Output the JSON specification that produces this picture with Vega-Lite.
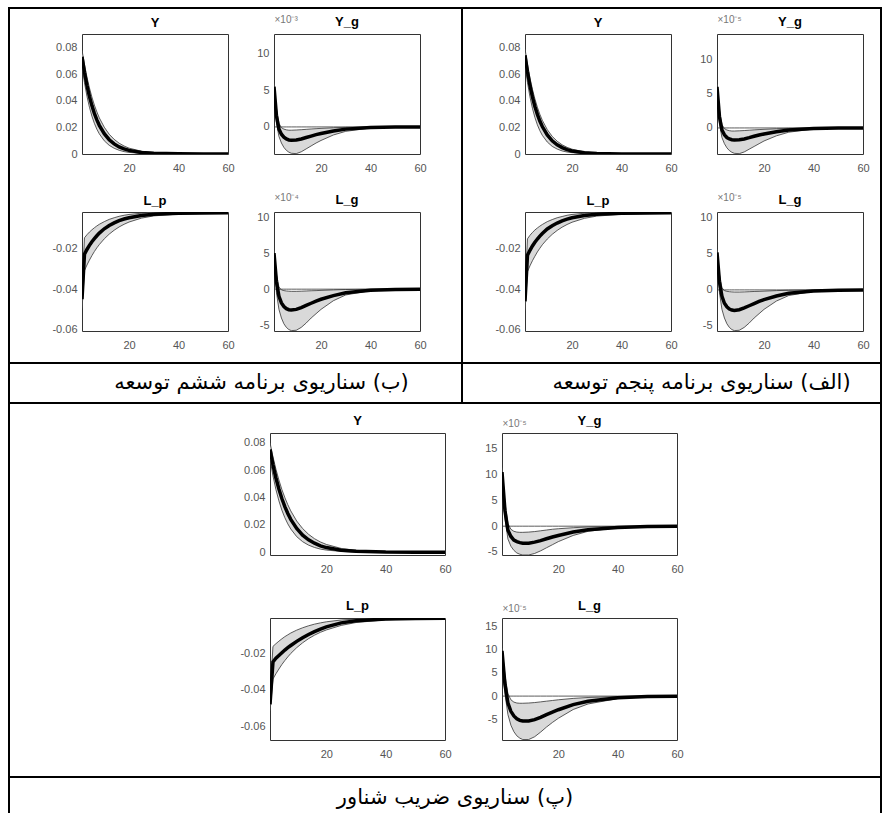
{
"$schema": "https://vega.github.io/schema/vega-lite/v6.json",
"padding": {"left": 8, "top": 7, "right": 1, "bottom": 0},
"background": "#ffffff",
"datasets": {
"A_Y": [
{"t":1,"m":0.073,"lo":0.066,"hi":0.078},{"t":2,"m":0.0613,"lo":0.0535,"hi":0.0671},{"t":3,"m":0.0515,"lo":0.0433,"hi":0.0577},{"t":4,"m":0.0432,"lo":0.0351,"hi":0.0496},{"t":5,"m":0.0363,"lo":0.0284,"hi":0.0427},{"t":6,"m":0.0305,"lo":0.023,"hi":0.0367},{"t":7,"m":0.0256,"lo":0.0186,"hi":0.0316},{"t":8,"m":0.0215,"lo":0.0151,"hi":0.0271},{"t":10,"m":0.0152,"lo":0.0099,"hi":0.0201},{"t":12,"m":0.0107,"lo":0.0065,"hi":0.0148},{"t":14,"m":0.0076,"lo":0.0043,"hi":0.011},{"t":16,"m":0.0053,"lo":0.0028,"hi":0.0081},{"t":18,"m":0.0038,"lo":0.0018,"hi":0.006},{"t":20,"m":0.0027,"lo":0.0012,"hi":0.0044},{"t":25,"m":0.0011,"lo":0.0004,"hi":0.0021},{"t":30,"m":0.0005,"lo":0.0001,"hi":0.001},{"t":40,"m":0.0001,"lo":0,"hi":0.0002},{"t":50,"m":0,"lo":0,"hi":0},{"t":60,"m":0,"lo":0,"hi":0}],
"B_Y": [
{"t":1,"m":0.074,"lo":0.067,"hi":0.079},{"t":2,"m":0.0617,"lo":0.0536,"hi":0.0672},{"t":3,"m":0.0514,"lo":0.0429,"hi":0.0571},{"t":4,"m":0.0428,"lo":0.0343,"hi":0.0485},{"t":5,"m":0.0356,"lo":0.0274,"hi":0.0413},{"t":6,"m":0.0297,"lo":0.0219,"hi":0.0351},{"t":7,"m":0.0247,"lo":0.0175,"hi":0.0298},{"t":8,"m":0.0206,"lo":0.014,"hi":0.0253},{"t":10,"m":0.0143,"lo":0.009,"hi":0.0183},{"t":12,"m":0.0099,"lo":0.0057,"hi":0.0132},{"t":14,"m":0.0069,"lo":0.0037,"hi":0.0096},{"t":16,"m":0.0048,"lo":0.0023,"hi":0.0069},{"t":18,"m":0.0033,"lo":0.0015,"hi":0.005},{"t":20,"m":0.0023,"lo":0.001,"hi":0.0036},{"t":25,"m":0.0009,"lo":0.0003,"hi":0.0016},{"t":30,"m":0.0003,"lo":0.0001,"hi":0.0007},{"t":40,"m":0,"lo":0,"hi":0.0001},{"t":50,"m":0,"lo":0,"hi":0},{"t":60,"m":0,"lo":0,"hi":0}],
"C_Y": [
{"t":1,"m":0.075,"lo":0.068,"hi":0.08},{"t":2,"m":0.0638,"lo":0.0558,"hi":0.0696},{"t":3,"m":0.0542,"lo":0.0457,"hi":0.0606},{"t":4,"m":0.0461,"lo":0.0375,"hi":0.0527},{"t":5,"m":0.0392,"lo":0.0307,"hi":0.0458},{"t":6,"m":0.0333,"lo":0.0252,"hi":0.0399},{"t":7,"m":0.0283,"lo":0.0207,"hi":0.0347},{"t":8,"m":0.024,"lo":0.017,"hi":0.0302},{"t":10,"m":0.0174,"lo":0.0114,"hi":0.0228},{"t":12,"m":0.0125,"lo":0.0077,"hi":0.0173},{"t":14,"m":0.0091,"lo":0.0052,"hi":0.0131},{"t":16,"m":0.0066,"lo":0.0035,"hi":0.0099},{"t":18,"m":0.0047,"lo":0.0023,"hi":0.0075},{"t":20,"m":0.0034,"lo":0.0016,"hi":0.0057},{"t":25,"m":0.0015,"lo":0.0006,"hi":0.0028},{"t":30,"m":0.0007,"lo":0.0002,"hi":0.0014},{"t":40,"m":0.0001,"lo":0,"hi":0.0003},{"t":50,"m":0,"lo":0,"hi":0.0001},{"t":60,"m":0,"lo":0,"hi":0}],
"A_Yg": [
{"t":1,"m":5.5,"lo":5.0,"hi":6.0},{"t":2,"m":1.5,"lo":0.5,"hi":2.5},{"t":3,"m":-0.3,"lo":-1.3,"hi":0.5},{"t":4,"m":-1.0,"lo":-2.2,"hi":-0.1},{"t":5,"m":-1.4,"lo":-2.8,"hi":-0.3},{"t":6,"m":-1.65,"lo":-3.2,"hi":-0.4},{"t":7,"m":-1.78,"lo":-3.45,"hi":-0.45},{"t":8,"m":-1.82,"lo":-3.6,"hi":-0.45},{"t":10,"m":-1.78,"lo":-3.65,"hi":-0.42},{"t":12,"m":-1.65,"lo":-3.4,"hi":-0.38},{"t":14,"m":-1.45,"lo":-3.0,"hi":-0.33},{"t":16,"m":-1.25,"lo":-2.6,"hi":-0.28},{"t":18,"m":-1.05,"lo":-2.2,"hi":-0.24},{"t":20,"m":-0.9,"lo":-1.85,"hi":-0.2},{"t":25,"m":-0.55,"lo":-1.1,"hi":-0.12},{"t":30,"m":-0.3,"lo":-0.6,"hi":-0.06},{"t":40,"m":-0.08,"lo":-0.15,"hi":-0.02},{"t":50,"m":-0.02,"lo":-0.04,"hi":0},{"t":60,"m":0,"lo":0,"hi":0}],
"B_Yg": [
{"t":1,"m":6.0,"lo":5.4,"hi":6.5},{"t":2,"m":1.6,"lo":0.6,"hi":2.6},{"t":3,"m":-0.3,"lo":-1.4,"hi":0.5},{"t":4,"m":-1.0,"lo":-2.3,"hi":-0.1},{"t":5,"m":-1.4,"lo":-2.9,"hi":-0.3},{"t":6,"m":-1.6,"lo":-3.3,"hi":-0.4},{"t":7,"m":-1.72,"lo":-3.55,"hi":-0.45},{"t":8,"m":-1.76,"lo":-3.7,"hi":-0.45},{"t":10,"m":-1.72,"lo":-3.75,"hi":-0.42},{"t":12,"m":-1.6,"lo":-3.5,"hi":-0.38},{"t":14,"m":-1.42,"lo":-3.1,"hi":-0.33},{"t":16,"m":-1.22,"lo":-2.7,"hi":-0.28},{"t":18,"m":-1.03,"lo":-2.3,"hi":-0.24},{"t":20,"m":-0.88,"lo":-1.9,"hi":-0.2},{"t":25,"m":-0.55,"lo":-1.15,"hi":-0.12},{"t":30,"m":-0.3,"lo":-0.62,"hi":-0.06},{"t":40,"m":-0.08,"lo":-0.16,"hi":-0.02},{"t":50,"m":-0.02,"lo":-0.04,"hi":0},{"t":60,"m":0,"lo":0,"hi":0}],
"C_Yg": [
{"t":1,"m":10.5,"lo":9.5,"hi":11.5},{"t":2,"m":3.0,"lo":1.5,"hi":4.5},{"t":3,"m":-0.8,"lo":-2.5,"hi":0.5},{"t":4,"m":-2.0,"lo":-3.9,"hi":-0.6},{"t":5,"m":-2.7,"lo":-4.7,"hi":-1.0},{"t":6,"m":-3.0,"lo":-5.2,"hi":-1.15},{"t":7,"m":-3.2,"lo":-5.45,"hi":-1.2},{"t":8,"m":-3.3,"lo":-5.6,"hi":-1.2},{"t":10,"m":-3.3,"lo":-5.6,"hi":-1.15},{"t":12,"m":-3.1,"lo":-5.3,"hi":-1.05},{"t":14,"m":-2.8,"lo":-4.8,"hi":-0.9},{"t":16,"m":-2.45,"lo":-4.2,"hi":-0.75},{"t":18,"m":-2.1,"lo":-3.6,"hi":-0.6},{"t":20,"m":-1.8,"lo":-3.0,"hi":-0.5},{"t":25,"m":-1.15,"lo":-1.8,"hi":-0.3},{"t":30,"m":-0.7,"lo":-1.0,"hi":-0.15},{"t":40,"m":-0.25,"lo":-0.3,"hi":-0.05},{"t":50,"m":-0.08,"lo":-0.1,"hi":-0.01},{"t":60,"m":-0.02,"lo":-0.02,"hi":0}],
"A_Lp": [
{"t":1,"m":-0.045,"lo":-0.05,"hi":-0.04},{"t":2,"m":-0.023,"lo":-0.031,"hi":-0.015},{"t":3,"m":-0.0207,"lo":-0.0283,"hi":-0.0135},{"t":4,"m":-0.0187,"lo":-0.0259,"hi":-0.0122},{"t":5,"m":-0.0169,"lo":-0.0237,"hi":-0.0111},{"t":6,"m":-0.0154,"lo":-0.0217,"hi":-0.0101},{"t":7,"m":-0.014,"lo":-0.0199,"hi":-0.0092},{"t":8,"m":-0.0127,"lo":-0.0183,"hi":-0.0084},{"t":10,"m":-0.0106,"lo":-0.0155,"hi":-0.0071},{"t":12,"m":-0.009,"lo":-0.0132,"hi":-0.006},{"t":14,"m":-0.0077,"lo":-0.0113,"hi":-0.0052},{"t":16,"m":-0.0066,"lo":-0.0097,"hi":-0.0045},{"t":18,"m":-0.0058,"lo":-0.0084,"hi":-0.004},{"t":20,"m":-0.0052,"lo":-0.0073,"hi":-0.0036},{"t":25,"m":-0.0041,"lo":-0.0054,"hi":-0.003},{"t":30,"m":-0.0035,"lo":-0.0043,"hi":-0.0027},{"t":40,"m":-0.003,"lo":-0.0034,"hi":-0.0025},{"t":50,"m":-0.0029,"lo":-0.0031,"hi":-0.0025},{"t":60,"m":-0.0028,"lo":-0.003,"hi":-0.0025}],
"B_Lp": [
{"t":1,"m":-0.046,"lo":-0.051,"hi":-0.041},{"t":2,"m":-0.0235,"lo":-0.0315,"hi":-0.0155},{"t":3,"m":-0.0211,"lo":-0.0287,"hi":-0.0138},{"t":4,"m":-0.019,"lo":-0.0262,"hi":-0.0124},{"t":5,"m":-0.0172,"lo":-0.024,"hi":-0.0112},{"t":6,"m":-0.0156,"lo":-0.0219,"hi":-0.0102},{"t":7,"m":-0.0142,"lo":-0.0201,"hi":-0.0093},{"t":8,"m":-0.0129,"lo":-0.0184,"hi":-0.0085},{"t":10,"m":-0.0107,"lo":-0.0156,"hi":-0.0071},{"t":12,"m":-0.0091,"lo":-0.0133,"hi":-0.0061},{"t":14,"m":-0.0078,"lo":-0.0114,"hi":-0.0052},{"t":16,"m":-0.0067,"lo":-0.0098,"hi":-0.0046},{"t":18,"m":-0.0059,"lo":-0.0085,"hi":-0.004},{"t":20,"m":-0.0052,"lo":-0.0074,"hi":-0.0036},{"t":25,"m":-0.0041,"lo":-0.0055,"hi":-0.003},{"t":30,"m":-0.0035,"lo":-0.0044,"hi":-0.0027},{"t":40,"m":-0.003,"lo":-0.0035,"hi":-0.0025},{"t":50,"m":-0.0029,"lo":-0.0032,"hi":-0.0025},{"t":60,"m":-0.0028,"lo":-0.0031,"hi":-0.0025}],
"C_Lp": [
{"t":1,"m":-0.048,"lo":-0.052,"hi":-0.043},{"t":2,"m":-0.0245,"lo":-0.034,"hi":-0.016},{"t":3,"m":-0.0225,"lo":-0.0311,"hi":-0.0145},{"t":4,"m":-0.021,"lo":-0.0285,"hi":-0.0131},{"t":5,"m":-0.0195,"lo":-0.026,"hi":-0.0118},{"t":6,"m":-0.018,"lo":-0.0238,"hi":-0.0106},{"t":7,"m":-0.0167,"lo":-0.0218,"hi":-0.0096},{"t":8,"m":-0.0155,"lo":-0.0199,"hi":-0.0086},{"t":10,"m":-0.0132,"lo":-0.0167,"hi":-0.007},{"t":12,"m":-0.0112,"lo":-0.014,"hi":-0.0057},{"t":14,"m":-0.0094,"lo":-0.0117,"hi":-0.0046},{"t":16,"m":-0.0078,"lo":-0.0098,"hi":-0.0037},{"t":18,"m":-0.0064,"lo":-0.0082,"hi":-0.003},{"t":20,"m":-0.0052,"lo":-0.0069,"hi":-0.0024},{"t":25,"m":-0.003,"lo":-0.0044,"hi":-0.0014},{"t":30,"m":-0.0018,"lo":-0.0028,"hi":-0.0009},{"t":40,"m":-0.0009,"lo":-0.0013,"hi":-0.0006},{"t":50,"m":-0.0006,"lo":-0.0008,"hi":-0.0005},{"t":60,"m":-0.0005,"lo":-0.0007,"hi":-0.0004}],
"A_Lg": [
{"t":1,"m":5.0,"lo":4.5,"hi":5.5},{"t":2,"m":1.0,"lo":-0.5,"hi":2.0},{"t":3,"m":-1.0,"lo":-2.8,"hi":0.3},{"t":4,"m":-1.9,"lo":-4.0,"hi":-0.1},{"t":5,"m":-2.4,"lo":-4.8,"hi":-0.2},{"t":6,"m":-2.7,"lo":-5.3,"hi":-0.25},{"t":7,"m":-2.85,"lo":-5.6,"hi":-0.28},{"t":8,"m":-2.9,"lo":-5.75,"hi":-0.3},{"t":10,"m":-2.8,"lo":-5.7,"hi":-0.3},{"t":12,"m":-2.55,"lo":-5.3,"hi":-0.28},{"t":14,"m":-2.25,"lo":-4.7,"hi":-0.25},{"t":16,"m":-1.95,"lo":-4.0,"hi":-0.22},{"t":18,"m":-1.65,"lo":-3.4,"hi":-0.2},{"t":20,"m":-1.4,"lo":-2.8,"hi":-0.17},{"t":25,"m":-0.9,"lo":-1.6,"hi":-0.1},{"t":30,"m":-0.5,"lo":-0.8,"hi":-0.05},{"t":40,"m":-0.15,"lo":-0.2,"hi":-0.01},{"t":50,"m":-0.04,"lo":-0.05,"hi":0},{"t":60,"m":0,"lo":0,"hi":0}],
"B_Lg": [
{"t":1,"m":5.2,"lo":4.7,"hi":5.7},{"t":2,"m":1.1,"lo":-0.4,"hi":2.1},{"t":3,"m":-0.9,"lo":-2.7,"hi":0.3},{"t":4,"m":-1.85,"lo":-3.9,"hi":-0.1},{"t":5,"m":-2.35,"lo":-4.7,"hi":-0.2},{"t":6,"m":-2.65,"lo":-5.2,"hi":-0.25},{"t":7,"m":-2.8,"lo":-5.5,"hi":-0.28},{"t":8,"m":-2.85,"lo":-5.65,"hi":-0.3},{"t":10,"m":-2.75,"lo":-5.6,"hi":-0.3},{"t":12,"m":-2.5,"lo":-5.2,"hi":-0.28},{"t":14,"m":-2.2,"lo":-4.6,"hi":-0.25},{"t":16,"m":-1.9,"lo":-3.9,"hi":-0.22},{"t":18,"m":-1.6,"lo":-3.3,"hi":-0.2},{"t":20,"m":-1.35,"lo":-2.7,"hi":-0.17},{"t":25,"m":-0.85,"lo":-1.55,"hi":-0.1},{"t":30,"m":-0.48,"lo":-0.78,"hi":-0.05},{"t":40,"m":-0.14,"lo":-0.2,"hi":-0.01},{"t":50,"m":-0.04,"lo":-0.05,"hi":0},{"t":60,"m":0,"lo":0,"hi":0}],
"C_Lg": [
{"t":1,"m":9.8,"lo":9.0,"hi":10.5},{"t":2,"m":2.5,"lo":0.5,"hi":4.5},{"t":3,"m":-1.5,"lo":-4.0,"hi":0.5},{"t":4,"m":-3.3,"lo":-6.3,"hi":-0.8},{"t":5,"m":-4.3,"lo":-7.7,"hi":-1.3},{"t":6,"m":-4.9,"lo":-8.6,"hi":-1.5},{"t":7,"m":-5.25,"lo":-9.1,"hi":-1.55},{"t":8,"m":-5.4,"lo":-9.4,"hi":-1.55},{"t":10,"m":-5.4,"lo":-9.4,"hi":-1.5},{"t":12,"m":-5.1,"lo":-8.8,"hi":-1.4},{"t":14,"m":-4.6,"lo":-7.8,"hi":-1.25},{"t":16,"m":-4.0,"lo":-6.7,"hi":-1.1},{"t":18,"m":-3.45,"lo":-5.7,"hi":-0.95},{"t":20,"m":-2.95,"lo":-4.8,"hi":-0.8},{"t":25,"m":-1.85,"lo":-2.9,"hi":-0.5},{"t":30,"m":-1.1,"lo":-1.7,"hi":-0.3},{"t":40,"m":-0.35,"lo":-0.55,"hi":-0.1},{"t":50,"m":-0.1,"lo":-0.15,"hi":-0.02},{"t":60,"m":-0.03,"lo":-0.04,"hi":0}]
},
"spacing": 0,
"bounds": "full",
"vconcat": [
{"width": 874, "height": 2, "view": {"fill": "#000", "stroke": null}, "data": {"values": []}, "mark": "text"},
{"hconcat": [
 {"width": 2, "height": 353, "view": {"fill": "#000", "stroke": null}, "data": {"values": []}, "mark": "text"},
 {"columns": 5, "bounds": "flush", "spacing": 0, "concat": [
  {"width": 72, "height": 25, "data": {"values": []}, "mark": "text"},
  {"width": 146, "height": 1, "data": {"values": []}, "mark": "text"},
  {"width": 46, "height": 1, "data": {"values": []}, "mark": "text"},
  {"width": 146, "height": 1, "data": {"values": []}, "mark": "text"},
  {"width": 41, "height": 1, "data": {"values": []}, "mark": "text"},
  {"width": 72, "height": 1, "data": {"values": []}, "mark": "text"},
  {"width": 146, "height": 120, "view": {"stroke": "#333"}, "title": {"text": "Y"}, "data": {"name": "A_Y"},
   "encoding": {"x": {"field": "t", "type": "quantitative", "scale": {"domain": [1, 60], "nice": false, "zero": false}, "axis": {"values": [20, 40, 60], "title": null}}},
   "layer": [
    {"mark": {"type": "area", "color": "#d9d9d9", "clip": true}, "encoding": {"y": {"field": "lo", "type": "quantitative", "scale": {"domain": [0, 0.09], "nice": false, "zero": false}, "axis": {"values": [0, 0.02, 0.04, 0.06, 0.08], "title": null, "labelExpr": "replace(format(datum.value, '~g'), '−', '-')"}}, "y2": {"field": "hi"}}},
    {"mark": {"type": "line", "color": "#333", "strokeWidth": 0.8, "clip": true}, "encoding": {"y": {"field": "lo", "type": "quantitative", "scale": {"domain": [0, 0.09], "nice": false, "zero": false}, "axis": {"values": [0, 0.02, 0.04, 0.06, 0.08], "title": null, "labelExpr": "replace(format(datum.value, '~g'), '−', '-')"}}}},
    {"mark": {"type": "line", "color": "#333", "strokeWidth": 0.8, "clip": true}, "encoding": {"y": {"field": "hi", "type": "quantitative", "scale": {"domain": [0, 0.09], "nice": false, "zero": false}, "axis": {"values": [0, 0.02, 0.04, 0.06, 0.08], "title": null, "labelExpr": "replace(format(datum.value, '~g'), '−', '-')"}}}},
    {"mark": {"type": "line", "color": "#000", "strokeWidth": 3.5, "clip": true}, "encoding": {"y": {"field": "m", "type": "quantitative", "scale": {"domain": [0, 0.09], "nice": false, "zero": false}, "axis": {"values": [0, 0.02, 0.04, 0.06, 0.08], "title": null, "labelExpr": "replace(format(datum.value, '~g'), '−', '-')"}}}}
   ]},
  {"width": 46, "height": 1, "data": {"values": []}, "mark": "text"},
  {"width": 146, "height": 120, "view": {"stroke": "#333"}, "title": {"text": "Y_g", "offset": -15}, "data": {"name": "A_Yg"},
   "encoding": {"x": {"field": "t", "type": "quantitative", "scale": {"domain": [1, 60], "nice": false, "zero": false}, "axis": {"values": [20, 40, 60], "title": null}}},
   "layer": [
    {"mark": {"type": "area", "color": "#d9d9d9", "clip": true}, "encoding": {"y": {"field": "lo", "type": "quantitative", "scale": {"domain": [-3.7, 12.7], "nice": false, "zero": false}, "axis": {"values": [0, 5, 10], "title": "×10⁻³", "titleAngle": 0, "titleAlign": "left", "titleBaseline": "alphabetic", "titleX": 0, "titleY": -12, "labelExpr": "replace(format(datum.value, '~g'), '−', '-')"}}, "y2": {"field": "hi"}}},
    {"mark": {"type": "line", "color": "#333", "strokeWidth": 0.8, "clip": true}, "encoding": {"y": {"field": "lo", "type": "quantitative", "scale": {"domain": [-3.7, 12.7], "nice": false, "zero": false}, "axis": {"values": [0, 5, 10], "title": "×10⁻³", "titleAngle": 0, "titleAlign": "left", "titleBaseline": "alphabetic", "titleX": 0, "titleY": -12, "labelExpr": "replace(format(datum.value, '~g'), '−', '-')"}}}},
    {"mark": {"type": "line", "color": "#333", "strokeWidth": 0.8, "clip": true}, "encoding": {"y": {"field": "hi", "type": "quantitative", "scale": {"domain": [-3.7, 12.7], "nice": false, "zero": false}, "axis": {"values": [0, 5, 10], "title": "×10⁻³", "titleAngle": 0, "titleAlign": "left", "titleBaseline": "alphabetic", "titleX": 0, "titleY": -12, "labelExpr": "replace(format(datum.value, '~g'), '−', '-')"}}}},
    {"mark": {"type": "line", "color": "#333", "strokeWidth": 0.8, "clip": true}, "encoding": {"y": {"datum": 0, "type": "quantitative", "scale": {"domain": [-3.7, 12.7], "nice": false, "zero": false}, "axis": {"values": [0, 5, 10], "title": "×10⁻³", "titleAngle": 0, "titleAlign": "left", "titleBaseline": "alphabetic", "titleX": 0, "titleY": -12, "labelExpr": "replace(format(datum.value, '~g'), '−', '-')"}}}},
    {"mark": {"type": "line", "color": "#000", "strokeWidth": 3.5, "clip": true}, "encoding": {"y": {"field": "m", "type": "quantitative", "scale": {"domain": [-3.7, 12.7], "nice": false, "zero": false}, "axis": {"values": [0, 5, 10], "title": "×10⁻³", "titleAngle": 0, "titleAlign": "left", "titleBaseline": "alphabetic", "titleX": 0, "titleY": -12, "labelExpr": "replace(format(datum.value, '~g'), '−', '-')"}}}}
   ]},
  {"width": 41, "height": 1, "data": {"values": []}, "mark": "text"},
  {"width": 72, "height": 58, "data": {"values": []}, "mark": "text"},
  {"width": 146, "height": 1, "data": {"values": []}, "mark": "text"},
  {"width": 46, "height": 1, "data": {"values": []}, "mark": "text"},
  {"width": 146, "height": 1, "data": {"values": []}, "mark": "text"},
  {"width": 41, "height": 1, "data": {"values": []}, "mark": "text"},
  {"width": 72, "height": 1, "data": {"values": []}, "mark": "text"},
  {"width": 146, "height": 119, "view": {"stroke": "#333"}, "title": {"text": "L_p"}, "data": {"name": "A_Lp"},
   "encoding": {"x": {"field": "t", "type": "quantitative", "scale": {"domain": [1, 60], "nice": false, "zero": false}, "axis": {"values": [20, 40, 60], "title": null}}},
   "layer": [
    {"mark": {"type": "area", "color": "#d9d9d9", "clip": true}, "encoding": {"y": {"field": "lo", "type": "quantitative", "scale": {"domain": [-0.0605, -0.0024], "nice": false, "zero": false}, "axis": {"values": [-0.06, -0.04, -0.02], "title": null, "labelExpr": "replace(format(datum.value, '~g'), '−', '-')"}}, "y2": {"field": "hi"}}},
    {"mark": {"type": "line", "color": "#333", "strokeWidth": 0.8, "clip": true}, "encoding": {"y": {"field": "lo", "type": "quantitative", "scale": {"domain": [-0.0605, -0.0024], "nice": false, "zero": false}, "axis": {"values": [-0.06, -0.04, -0.02], "title": null, "labelExpr": "replace(format(datum.value, '~g'), '−', '-')"}}}},
    {"mark": {"type": "line", "color": "#333", "strokeWidth": 0.8, "clip": true}, "encoding": {"y": {"field": "hi", "type": "quantitative", "scale": {"domain": [-0.0605, -0.0024], "nice": false, "zero": false}, "axis": {"values": [-0.06, -0.04, -0.02], "title": null, "labelExpr": "replace(format(datum.value, '~g'), '−', '-')"}}}},
    {"mark": {"type": "line", "color": "#000", "strokeWidth": 3.5, "clip": true}, "encoding": {"y": {"field": "m", "type": "quantitative", "scale": {"domain": [-0.0605, -0.0024], "nice": false, "zero": false}, "axis": {"values": [-0.06, -0.04, -0.02], "title": null, "labelExpr": "replace(format(datum.value, '~g'), '−', '-')"}}}}
   ]},
  {"width": 46, "height": 1, "data": {"values": []}, "mark": "text"},
  {"width": 146, "height": 119, "view": {"stroke": "#333"}, "title": {"text": "L_g", "offset": -15}, "data": {"name": "A_Lg"},
   "encoding": {"x": {"field": "t", "type": "quantitative", "scale": {"domain": [1, 60], "nice": false, "zero": false}, "axis": {"values": [20, 40, 60], "title": null}}},
   "layer": [
    {"mark": {"type": "area", "color": "#d9d9d9", "clip": true}, "encoding": {"y": {"field": "lo", "type": "quantitative", "scale": {"domain": [-5.8, 10.7], "nice": false, "zero": false}, "axis": {"values": [-5, 0, 5, 10], "title": "×10⁻⁴", "titleAngle": 0, "titleAlign": "left", "titleBaseline": "alphabetic", "titleX": 0, "titleY": -12, "labelExpr": "replace(format(datum.value, '~g'), '−', '-')"}}, "y2": {"field": "hi"}}},
    {"mark": {"type": "line", "color": "#333", "strokeWidth": 0.8, "clip": true}, "encoding": {"y": {"field": "lo", "type": "quantitative", "scale": {"domain": [-5.8, 10.7], "nice": false, "zero": false}, "axis": {"values": [-5, 0, 5, 10], "title": "×10⁻⁴", "titleAngle": 0, "titleAlign": "left", "titleBaseline": "alphabetic", "titleX": 0, "titleY": -12, "labelExpr": "replace(format(datum.value, '~g'), '−', '-')"}}}},
    {"mark": {"type": "line", "color": "#333", "strokeWidth": 0.8, "clip": true}, "encoding": {"y": {"field": "hi", "type": "quantitative", "scale": {"domain": [-5.8, 10.7], "nice": false, "zero": false}, "axis": {"values": [-5, 0, 5, 10], "title": "×10⁻⁴", "titleAngle": 0, "titleAlign": "left", "titleBaseline": "alphabetic", "titleX": 0, "titleY": -12, "labelExpr": "replace(format(datum.value, '~g'), '−', '-')"}}}},
    {"mark": {"type": "line", "color": "#333", "strokeWidth": 0.8, "clip": true}, "encoding": {"y": {"datum": 0, "type": "quantitative", "scale": {"domain": [-5.8, 10.7], "nice": false, "zero": false}, "axis": {"values": [-5, 0, 5, 10], "title": "×10⁻⁴", "titleAngle": 0, "titleAlign": "left", "titleBaseline": "alphabetic", "titleX": 0, "titleY": -12, "labelExpr": "replace(format(datum.value, '~g'), '−', '-')"}}}},
    {"mark": {"type": "line", "color": "#000", "strokeWidth": 3.5, "clip": true}, "encoding": {"y": {"field": "m", "type": "quantitative", "scale": {"domain": [-5.8, 10.7], "nice": false, "zero": false}, "axis": {"values": [-5, 0, 5, 10], "title": "×10⁻⁴", "titleAngle": 0, "titleAlign": "left", "titleBaseline": "alphabetic", "titleX": 0, "titleY": -12, "labelExpr": "replace(format(datum.value, '~g'), '−', '-')"}}}}
   ]},
  {"width": 41, "height": 1, "data": {"values": []}, "mark": "text"},
  {"width": 72, "height": 31, "data": {"values": []}, "mark": "text"},
  {"width": 146, "height": 1, "data": {"values": []}, "mark": "text"},
  {"width": 46, "height": 1, "data": {"values": []}, "mark": "text"},
  {"width": 146, "height": 1, "data": {"values": []}, "mark": "text"},
  {"width": 41, "height": 1, "data": {"values": []}, "mark": "text"}
 ]},
 {"width": 2, "height": 353, "view": {"fill": "#000", "stroke": null}, "data": {"values": []}, "mark": "text"},
 {"columns": 5, "bounds": "flush", "spacing": 0, "concat": [
  {"width": 62, "height": 25, "data": {"values": []}, "mark": "text"},
  {"width": 146, "height": 1, "data": {"values": []}, "mark": "text"},
  {"width": 46, "height": 1, "data": {"values": []}, "mark": "text"},
  {"width": 146, "height": 1, "data": {"values": []}, "mark": "text"},
  {"width": 17, "height": 1, "data": {"values": []}, "mark": "text"},
  {"width": 62, "height": 1, "data": {"values": []}, "mark": "text"},
  {"width": 146, "height": 120, "view": {"stroke": "#333"}, "title": {"text": "Y"}, "data": {"name": "B_Y"},
   "encoding": {"x": {"field": "t", "type": "quantitative", "scale": {"domain": [1, 60], "nice": false, "zero": false}, "axis": {"values": [20, 40, 60], "title": null}}},
   "layer": [
    {"mark": {"type": "area", "color": "#d9d9d9", "clip": true}, "encoding": {"y": {"field": "lo", "type": "quantitative", "scale": {"domain": [0, 0.09], "nice": false, "zero": false}, "axis": {"values": [0, 0.02, 0.04, 0.06, 0.08], "title": null, "labelExpr": "replace(format(datum.value, '~g'), '−', '-')"}}, "y2": {"field": "hi"}}},
    {"mark": {"type": "line", "color": "#333", "strokeWidth": 0.8, "clip": true}, "encoding": {"y": {"field": "lo", "type": "quantitative", "scale": {"domain": [0, 0.09], "nice": false, "zero": false}, "axis": {"values": [0, 0.02, 0.04, 0.06, 0.08], "title": null, "labelExpr": "replace(format(datum.value, '~g'), '−', '-')"}}}},
    {"mark": {"type": "line", "color": "#333", "strokeWidth": 0.8, "clip": true}, "encoding": {"y": {"field": "hi", "type": "quantitative", "scale": {"domain": [0, 0.09], "nice": false, "zero": false}, "axis": {"values": [0, 0.02, 0.04, 0.06, 0.08], "title": null, "labelExpr": "replace(format(datum.value, '~g'), '−', '-')"}}}},
    {"mark": {"type": "line", "color": "#000", "strokeWidth": 3.5, "clip": true}, "encoding": {"y": {"field": "m", "type": "quantitative", "scale": {"domain": [0, 0.09], "nice": false, "zero": false}, "axis": {"values": [0, 0.02, 0.04, 0.06, 0.08], "title": null, "labelExpr": "replace(format(datum.value, '~g'), '−', '-')"}}}}
   ]},
  {"width": 46, "height": 1, "data": {"values": []}, "mark": "text"},
  {"width": 146, "height": 120, "view": {"stroke": "#333"}, "title": {"text": "Y_g", "offset": -15}, "data": {"name": "B_Yg"},
   "encoding": {"x": {"field": "t", "type": "quantitative", "scale": {"domain": [1, 60], "nice": false, "zero": false}, "axis": {"values": [20, 40, 60], "title": null}}},
   "layer": [
    {"mark": {"type": "area", "color": "#d9d9d9", "clip": true}, "encoding": {"y": {"field": "lo", "type": "quantitative", "scale": {"domain": [-3.8, 13.7], "nice": false, "zero": false}, "axis": {"values": [0, 5, 10], "title": "×10⁻⁵", "titleAngle": 0, "titleAlign": "left", "titleBaseline": "alphabetic", "titleX": 0, "titleY": -12, "labelExpr": "replace(format(datum.value, '~g'), '−', '-')"}}, "y2": {"field": "hi"}}},
    {"mark": {"type": "line", "color": "#333", "strokeWidth": 0.8, "clip": true}, "encoding": {"y": {"field": "lo", "type": "quantitative", "scale": {"domain": [-3.8, 13.7], "nice": false, "zero": false}, "axis": {"values": [0, 5, 10], "title": "×10⁻⁵", "titleAngle": 0, "titleAlign": "left", "titleBaseline": "alphabetic", "titleX": 0, "titleY": -12, "labelExpr": "replace(format(datum.value, '~g'), '−', '-')"}}}},
    {"mark": {"type": "line", "color": "#333", "strokeWidth": 0.8, "clip": true}, "encoding": {"y": {"field": "hi", "type": "quantitative", "scale": {"domain": [-3.8, 13.7], "nice": false, "zero": false}, "axis": {"values": [0, 5, 10], "title": "×10⁻⁵", "titleAngle": 0, "titleAlign": "left", "titleBaseline": "alphabetic", "titleX": 0, "titleY": -12, "labelExpr": "replace(format(datum.value, '~g'), '−', '-')"}}}},
    {"mark": {"type": "line", "color": "#333", "strokeWidth": 0.8, "clip": true}, "encoding": {"y": {"datum": 0, "type": "quantitative", "scale": {"domain": [-3.8, 13.7], "nice": false, "zero": false}, "axis": {"values": [0, 5, 10], "title": "×10⁻⁵", "titleAngle": 0, "titleAlign": "left", "titleBaseline": "alphabetic", "titleX": 0, "titleY": -12, "labelExpr": "replace(format(datum.value, '~g'), '−', '-')"}}}},
    {"mark": {"type": "line", "color": "#000", "strokeWidth": 3.5, "clip": true}, "encoding": {"y": {"field": "m", "type": "quantitative", "scale": {"domain": [-3.8, 13.7], "nice": false, "zero": false}, "axis": {"values": [0, 5, 10], "title": "×10⁻⁵", "titleAngle": 0, "titleAlign": "left", "titleBaseline": "alphabetic", "titleX": 0, "titleY": -12, "labelExpr": "replace(format(datum.value, '~g'), '−', '-')"}}}}
   ]},
  {"width": 17, "height": 1, "data": {"values": []}, "mark": "text"},
  {"width": 62, "height": 58, "data": {"values": []}, "mark": "text"},
  {"width": 146, "height": 1, "data": {"values": []}, "mark": "text"},
  {"width": 46, "height": 1, "data": {"values": []}, "mark": "text"},
  {"width": 146, "height": 1, "data": {"values": []}, "mark": "text"},
  {"width": 17, "height": 1, "data": {"values": []}, "mark": "text"},
  {"width": 62, "height": 1, "data": {"values": []}, "mark": "text"},
  {"width": 146, "height": 119, "view": {"stroke": "#333"}, "title": {"text": "L_p"}, "data": {"name": "B_Lp"},
   "encoding": {"x": {"field": "t", "type": "quantitative", "scale": {"domain": [1, 60], "nice": false, "zero": false}, "axis": {"values": [20, 40, 60], "title": null}}},
   "layer": [
    {"mark": {"type": "area", "color": "#d9d9d9", "clip": true}, "encoding": {"y": {"field": "lo", "type": "quantitative", "scale": {"domain": [-0.0605, -0.0024], "nice": false, "zero": false}, "axis": {"values": [-0.06, -0.04, -0.02], "title": null, "labelExpr": "replace(format(datum.value, '~g'), '−', '-')"}}, "y2": {"field": "hi"}}},
    {"mark": {"type": "line", "color": "#333", "strokeWidth": 0.8, "clip": true}, "encoding": {"y": {"field": "lo", "type": "quantitative", "scale": {"domain": [-0.0605, -0.0024], "nice": false, "zero": false}, "axis": {"values": [-0.06, -0.04, -0.02], "title": null, "labelExpr": "replace(format(datum.value, '~g'), '−', '-')"}}}},
    {"mark": {"type": "line", "color": "#333", "strokeWidth": 0.8, "clip": true}, "encoding": {"y": {"field": "hi", "type": "quantitative", "scale": {"domain": [-0.0605, -0.0024], "nice": false, "zero": false}, "axis": {"values": [-0.06, -0.04, -0.02], "title": null, "labelExpr": "replace(format(datum.value, '~g'), '−', '-')"}}}},
    {"mark": {"type": "line", "color": "#000", "strokeWidth": 3.5, "clip": true}, "encoding": {"y": {"field": "m", "type": "quantitative", "scale": {"domain": [-0.0605, -0.0024], "nice": false, "zero": false}, "axis": {"values": [-0.06, -0.04, -0.02], "title": null, "labelExpr": "replace(format(datum.value, '~g'), '−', '-')"}}}}
   ]},
  {"width": 46, "height": 1, "data": {"values": []}, "mark": "text"},
  {"width": 146, "height": 119, "view": {"stroke": "#333"}, "title": {"text": "L_g", "offset": -15}, "data": {"name": "B_Lg"},
   "encoding": {"x": {"field": "t", "type": "quantitative", "scale": {"domain": [1, 60], "nice": false, "zero": false}, "axis": {"values": [20, 40, 60], "title": null}}},
   "layer": [
    {"mark": {"type": "area", "color": "#d9d9d9", "clip": true}, "encoding": {"y": {"field": "lo", "type": "quantitative", "scale": {"domain": [-5.7, 10.8], "nice": false, "zero": false}, "axis": {"values": [-5, 0, 5, 10], "title": "×10⁻⁵", "titleAngle": 0, "titleAlign": "left", "titleBaseline": "alphabetic", "titleX": 0, "titleY": -12, "labelExpr": "replace(format(datum.value, '~g'), '−', '-')"}}, "y2": {"field": "hi"}}},
    {"mark": {"type": "line", "color": "#333", "strokeWidth": 0.8, "clip": true}, "encoding": {"y": {"field": "lo", "type": "quantitative", "scale": {"domain": [-5.7, 10.8], "nice": false, "zero": false}, "axis": {"values": [-5, 0, 5, 10], "title": "×10⁻⁵", "titleAngle": 0, "titleAlign": "left", "titleBaseline": "alphabetic", "titleX": 0, "titleY": -12, "labelExpr": "replace(format(datum.value, '~g'), '−', '-')"}}}},
    {"mark": {"type": "line", "color": "#333", "strokeWidth": 0.8, "clip": true}, "encoding": {"y": {"field": "hi", "type": "quantitative", "scale": {"domain": [-5.7, 10.8], "nice": false, "zero": false}, "axis": {"values": [-5, 0, 5, 10], "title": "×10⁻⁵", "titleAngle": 0, "titleAlign": "left", "titleBaseline": "alphabetic", "titleX": 0, "titleY": -12, "labelExpr": "replace(format(datum.value, '~g'), '−', '-')"}}}},
    {"mark": {"type": "line", "color": "#333", "strokeWidth": 0.8, "clip": true}, "encoding": {"y": {"datum": 0, "type": "quantitative", "scale": {"domain": [-5.7, 10.8], "nice": false, "zero": false}, "axis": {"values": [-5, 0, 5, 10], "title": "×10⁻⁵", "titleAngle": 0, "titleAlign": "left", "titleBaseline": "alphabetic", "titleX": 0, "titleY": -12, "labelExpr": "replace(format(datum.value, '~g'), '−', '-')"}}}},
    {"mark": {"type": "line", "color": "#000", "strokeWidth": 3.5, "clip": true}, "encoding": {"y": {"field": "m", "type": "quantitative", "scale": {"domain": [-5.7, 10.8], "nice": false, "zero": false}, "axis": {"values": [-5, 0, 5, 10], "title": "×10⁻⁵", "titleAngle": 0, "titleAlign": "left", "titleBaseline": "alphabetic", "titleX": 0, "titleY": -12, "labelExpr": "replace(format(datum.value, '~g'), '−', '-')"}}}}
   ]},
  {"width": 17, "height": 1, "data": {"values": []}, "mark": "text"},
  {"width": 62, "height": 31, "data": {"values": []}, "mark": "text"},
  {"width": 146, "height": 1, "data": {"values": []}, "mark": "text"},
  {"width": 46, "height": 1, "data": {"values": []}, "mark": "text"},
  {"width": 146, "height": 1, "data": {"values": []}, "mark": "text"},
  {"width": 17, "height": 1, "data": {"values": []}, "mark": "text"}
 ]},
 {"width": 2, "height": 353, "view": {"fill": "#000", "stroke": null}, "data": {"values": []}, "mark": "text"}
], "spacing": 0, "bounds": "full"},
{"width": 874, "height": 2, "view": {"fill": "#000", "stroke": null}, "data": {"values": []}, "mark": "text"},
{"hconcat": [
 {"width": 2, "height": 38, "view": {"fill": "#000", "stroke": null}, "data": {"values": []}, "mark": "text"},
 {"width": 451, "height": 38, "data": {"values": [{"c": "‫(ب) سناریوی برنامه ششم توسعه‬"}]}, "mark": {"type": "text", "font": "DejaVu Sans", "fontSize": 21, "align": "center", "dx": 26, "color": "#000"}, "encoding": {"text": {"field": "c"}}},
 {"width": 2, "height": 38, "view": {"fill": "#000", "stroke": null}, "data": {"values": []}, "mark": "text"},
 {"width": 417, "height": 38, "data": {"values": [{"c": "‫(الف) سناریوی برنامه پنجم توسعه‬"}]}, "mark": {"type": "text", "font": "DejaVu Sans", "fontSize": 21, "align": "center", "dx": 30, "color": "#000"}, "encoding": {"text": {"field": "c"}}},
 {"width": 2, "height": 38, "view": {"fill": "#000", "stroke": null}, "data": {"values": []}, "mark": "text"}
], "spacing": 0, "bounds": "full"},
{"width": 874, "height": 2, "view": {"fill": "#000", "stroke": null}, "data": {"values": []}, "mark": "text"},
{"hconcat": [
 {"width": 2, "height": 372, "view": {"fill": "#000", "stroke": null}, "data": {"values": []}, "mark": "text"},
 {"columns": 5, "bounds": "flush", "spacing": 0, "concat": [
  {"width": 260, "height": 29, "data": {"values": []}, "mark": "text"},
  {"width": 175, "height": 1, "data": {"values": []}, "mark": "text"},
  {"width": 57, "height": 1, "data": {"values": []}, "mark": "text"},
  {"width": 175, "height": 1, "data": {"values": []}, "mark": "text"},
  {"width": 203, "height": 1, "data": {"values": []}, "mark": "text"},
  {"width": 260, "height": 1, "data": {"values": []}, "mark": "text"},
  {"width": 175, "height": 122, "view": {"stroke": "#333"}, "title": {"text": "Y", "offset": 5}, "data": {"name": "C_Y"},
   "encoding": {"x": {"field": "t", "type": "quantitative", "scale": {"domain": [1, 60], "nice": false, "zero": false}, "axis": {"values": [20, 40, 60], "title": null}}},
   "layer": [
    {"mark": {"type": "area", "color": "#d9d9d9", "clip": true}, "encoding": {"y": {"field": "lo", "type": "quantitative", "scale": {"domain": [-0.002, 0.087], "nice": false, "zero": false}, "axis": {"values": [0, 0.02, 0.04, 0.06, 0.08], "title": null, "labelExpr": "replace(format(datum.value, '~g'), '−', '-')"}}, "y2": {"field": "hi"}}},
    {"mark": {"type": "line", "color": "#333", "strokeWidth": 0.8, "clip": true}, "encoding": {"y": {"field": "lo", "type": "quantitative", "scale": {"domain": [-0.002, 0.087], "nice": false, "zero": false}, "axis": {"values": [0, 0.02, 0.04, 0.06, 0.08], "title": null, "labelExpr": "replace(format(datum.value, '~g'), '−', '-')"}}}},
    {"mark": {"type": "line", "color": "#333", "strokeWidth": 0.8, "clip": true}, "encoding": {"y": {"field": "hi", "type": "quantitative", "scale": {"domain": [-0.002, 0.087], "nice": false, "zero": false}, "axis": {"values": [0, 0.02, 0.04, 0.06, 0.08], "title": null, "labelExpr": "replace(format(datum.value, '~g'), '−', '-')"}}}},
    {"mark": {"type": "line", "color": "#000", "strokeWidth": 3.5, "clip": true}, "encoding": {"y": {"field": "m", "type": "quantitative", "scale": {"domain": [-0.002, 0.087], "nice": false, "zero": false}, "axis": {"values": [0, 0.02, 0.04, 0.06, 0.08], "title": null, "labelExpr": "replace(format(datum.value, '~g'), '−', '-')"}}}}
   ]},
  {"width": 57, "height": 1, "data": {"values": []}, "mark": "text"},
  {"width": 175, "height": 122, "view": {"stroke": "#333"}, "title": {"text": "Y_g", "offset": -10}, "data": {"name": "C_Yg"},
   "encoding": {"x": {"field": "t", "type": "quantitative", "scale": {"domain": [1, 60], "nice": false, "zero": false}, "axis": {"values": [20, 40, 60], "title": null}}},
   "layer": [
    {"mark": {"type": "area", "color": "#d9d9d9", "clip": true}, "encoding": {"y": {"field": "lo", "type": "quantitative", "scale": {"domain": [-5.6, 18.1], "nice": false, "zero": false}, "axis": {"values": [-5, 0, 5, 10, 15], "title": "×10⁻⁵", "titleAngle": 0, "titleAlign": "left", "titleBaseline": "alphabetic", "titleX": 0, "titleY": -7, "labelExpr": "replace(format(datum.value, '~g'), '−', '-')"}}, "y2": {"field": "hi"}}},
    {"mark": {"type": "line", "color": "#333", "strokeWidth": 0.8, "clip": true}, "encoding": {"y": {"field": "lo", "type": "quantitative", "scale": {"domain": [-5.6, 18.1], "nice": false, "zero": false}, "axis": {"values": [-5, 0, 5, 10, 15], "title": "×10⁻⁵", "titleAngle": 0, "titleAlign": "left", "titleBaseline": "alphabetic", "titleX": 0, "titleY": -7, "labelExpr": "replace(format(datum.value, '~g'), '−', '-')"}}}},
    {"mark": {"type": "line", "color": "#333", "strokeWidth": 0.8, "clip": true}, "encoding": {"y": {"field": "hi", "type": "quantitative", "scale": {"domain": [-5.6, 18.1], "nice": false, "zero": false}, "axis": {"values": [-5, 0, 5, 10, 15], "title": "×10⁻⁵", "titleAngle": 0, "titleAlign": "left", "titleBaseline": "alphabetic", "titleX": 0, "titleY": -7, "labelExpr": "replace(format(datum.value, '~g'), '−', '-')"}}}},
    {"mark": {"type": "line", "color": "#333", "strokeWidth": 0.8, "clip": true}, "encoding": {"y": {"datum": 0, "type": "quantitative", "scale": {"domain": [-5.6, 18.1], "nice": false, "zero": false}, "axis": {"values": [-5, 0, 5, 10, 15], "title": "×10⁻⁵", "titleAngle": 0, "titleAlign": "left", "titleBaseline": "alphabetic", "titleX": 0, "titleY": -7, "labelExpr": "replace(format(datum.value, '~g'), '−', '-')"}}}},
    {"mark": {"type": "line", "color": "#000", "strokeWidth": 3.5, "clip": true}, "encoding": {"y": {"field": "m", "type": "quantitative", "scale": {"domain": [-5.6, 18.1], "nice": false, "zero": false}, "axis": {"values": [-5, 0, 5, 10, 15], "title": "×10⁻⁵", "titleAngle": 0, "titleAlign": "left", "titleBaseline": "alphabetic", "titleX": 0, "titleY": -7, "labelExpr": "replace(format(datum.value, '~g'), '−', '-')"}}}}
   ]},
  {"width": 203, "height": 1, "data": {"values": []}, "mark": "text"},
  {"width": 260, "height": 63, "data": {"values": []}, "mark": "text"},
  {"width": 175, "height": 1, "data": {"values": []}, "mark": "text"},
  {"width": 57, "height": 1, "data": {"values": []}, "mark": "text"},
  {"width": 175, "height": 1, "data": {"values": []}, "mark": "text"},
  {"width": 203, "height": 1, "data": {"values": []}, "mark": "text"},
  {"width": 260, "height": 1, "data": {"values": []}, "mark": "text"},
  {"width": 175, "height": 122, "view": {"stroke": "#333"}, "title": {"text": "L_p", "offset": 5}, "data": {"name": "C_Lp"},
   "encoding": {"x": {"field": "t", "type": "quantitative", "scale": {"domain": [1, 60], "nice": false, "zero": false}, "axis": {"values": [20, 40, 60], "title": null}}},
   "layer": [
    {"mark": {"type": "area", "color": "#d9d9d9", "clip": true}, "encoding": {"y": {"field": "lo", "type": "quantitative", "scale": {"domain": [-0.0677, -0.0003], "nice": false, "zero": false}, "axis": {"values": [-0.06, -0.04, -0.02], "title": null, "labelExpr": "replace(format(datum.value, '~g'), '−', '-')"}}, "y2": {"field": "hi"}}},
    {"mark": {"type": "line", "color": "#333", "strokeWidth": 0.8, "clip": true}, "encoding": {"y": {"field": "lo", "type": "quantitative", "scale": {"domain": [-0.0677, -0.0003], "nice": false, "zero": false}, "axis": {"values": [-0.06, -0.04, -0.02], "title": null, "labelExpr": "replace(format(datum.value, '~g'), '−', '-')"}}}},
    {"mark": {"type": "line", "color": "#333", "strokeWidth": 0.8, "clip": true}, "encoding": {"y": {"field": "hi", "type": "quantitative", "scale": {"domain": [-0.0677, -0.0003], "nice": false, "zero": false}, "axis": {"values": [-0.06, -0.04, -0.02], "title": null, "labelExpr": "replace(format(datum.value, '~g'), '−', '-')"}}}},
    {"mark": {"type": "line", "color": "#000", "strokeWidth": 3.5, "clip": true}, "encoding": {"y": {"field": "m", "type": "quantitative", "scale": {"domain": [-0.0677, -0.0003], "nice": false, "zero": false}, "axis": {"values": [-0.06, -0.04, -0.02], "title": null, "labelExpr": "replace(format(datum.value, '~g'), '−', '-')"}}}}
   ]},
  {"width": 57, "height": 1, "data": {"values": []}, "mark": "text"},
  {"width": 175, "height": 122, "view": {"stroke": "#333"}, "title": {"text": "L_g", "offset": -10}, "data": {"name": "C_Lg"},
   "encoding": {"x": {"field": "t", "type": "quantitative", "scale": {"domain": [1, 60], "nice": false, "zero": false}, "axis": {"values": [20, 40, 60], "title": null}}},
   "layer": [
    {"mark": {"type": "area", "color": "#d9d9d9", "clip": true}, "encoding": {"y": {"field": "lo", "type": "quantitative", "scale": {"domain": [-9.5, 16.9], "nice": false, "zero": false}, "axis": {"values": [-5, 0, 5, 10, 15], "title": "×10⁻⁵", "titleAngle": 0, "titleAlign": "left", "titleBaseline": "alphabetic", "titleX": 0, "titleY": -7, "labelExpr": "replace(format(datum.value, '~g'), '−', '-')"}}, "y2": {"field": "hi"}}},
    {"mark": {"type": "line", "color": "#333", "strokeWidth": 0.8, "clip": true}, "encoding": {"y": {"field": "lo", "type": "quantitative", "scale": {"domain": [-9.5, 16.9], "nice": false, "zero": false}, "axis": {"values": [-5, 0, 5, 10, 15], "title": "×10⁻⁵", "titleAngle": 0, "titleAlign": "left", "titleBaseline": "alphabetic", "titleX": 0, "titleY": -7, "labelExpr": "replace(format(datum.value, '~g'), '−', '-')"}}}},
    {"mark": {"type": "line", "color": "#333", "strokeWidth": 0.8, "clip": true}, "encoding": {"y": {"field": "hi", "type": "quantitative", "scale": {"domain": [-9.5, 16.9], "nice": false, "zero": false}, "axis": {"values": [-5, 0, 5, 10, 15], "title": "×10⁻⁵", "titleAngle": 0, "titleAlign": "left", "titleBaseline": "alphabetic", "titleX": 0, "titleY": -7, "labelExpr": "replace(format(datum.value, '~g'), '−', '-')"}}}},
    {"mark": {"type": "line", "color": "#333", "strokeWidth": 0.8, "clip": true}, "encoding": {"y": {"datum": 0, "type": "quantitative", "scale": {"domain": [-9.5, 16.9], "nice": false, "zero": false}, "axis": {"values": [-5, 0, 5, 10, 15], "title": "×10⁻⁵", "titleAngle": 0, "titleAlign": "left", "titleBaseline": "alphabetic", "titleX": 0, "titleY": -7, "labelExpr": "replace(format(datum.value, '~g'), '−', '-')"}}}},
    {"mark": {"type": "line", "color": "#000", "strokeWidth": 3.5, "clip": true}, "encoding": {"y": {"field": "m", "type": "quantitative", "scale": {"domain": [-9.5, 16.9], "nice": false, "zero": false}, "axis": {"values": [-5, 0, 5, 10, 15], "title": "×10⁻⁵", "titleAngle": 0, "titleAlign": "left", "titleBaseline": "alphabetic", "titleX": 0, "titleY": -7, "labelExpr": "replace(format(datum.value, '~g'), '−', '-')"}}}}
   ]},
  {"width": 203, "height": 1, "data": {"values": []}, "mark": "text"},
  {"width": 260, "height": 36, "data": {"values": []}, "mark": "text"},
  {"width": 175, "height": 1, "data": {"values": []}, "mark": "text"},
  {"width": 57, "height": 1, "data": {"values": []}, "mark": "text"},
  {"width": 175, "height": 1, "data": {"values": []}, "mark": "text"},
  {"width": 203, "height": 1, "data": {"values": []}, "mark": "text"}
 ]},
 {"width": 2, "height": 372, "view": {"fill": "#000", "stroke": null}, "data": {"values": []}, "mark": "text"}
], "spacing": 0, "bounds": "full"},
{"width": 874, "height": 2, "view": {"fill": "#000", "stroke": null}, "data": {"values": []}, "mark": "text"},
{"hconcat": [
 {"width": 2, "height": 35, "view": {"fill": "#000", "stroke": null}, "data": {"values": []}, "mark": "text"},
 {"width": 870, "height": 35, "data": {"values": [{"c": "‫(پ) سناریوی ضریب شناور‬"}]}, "mark": {"type": "text", "font": "DejaVu Sans", "fontSize": 21, "align": "center", "dx": 10, "dy": 2, "color": "#000"}, "encoding": {"text": {"field": "c"}}},
 {"width": 2, "height": 35, "view": {"fill": "#000", "stroke": null}, "data": {"values": []}, "mark": "text"}
], "spacing": 0, "bounds": "full"}
],
"config": {
 "view": {"stroke": null},
 "axis": {"grid": false, "domain": false, "ticks": false, "labelFont": "Liberation Sans", "labelFontSize": 11, "labelColor": "#555", "labelFlush": false, "labelOverlap": false, "titleFont": "Liberation Sans", "titleFontSize": 10, "titleFontWeight": "normal", "titleColor": "#777"},
 "axisX": {"labelPadding": 8},
 "axisY": {"labelPadding": 5},
 "title": {"font": "Liberation Sans", "fontSize": 13, "fontWeight": "bold", "color": "#000", "offset": 4, "anchor": "middle", "frame": "group"}
}
}
